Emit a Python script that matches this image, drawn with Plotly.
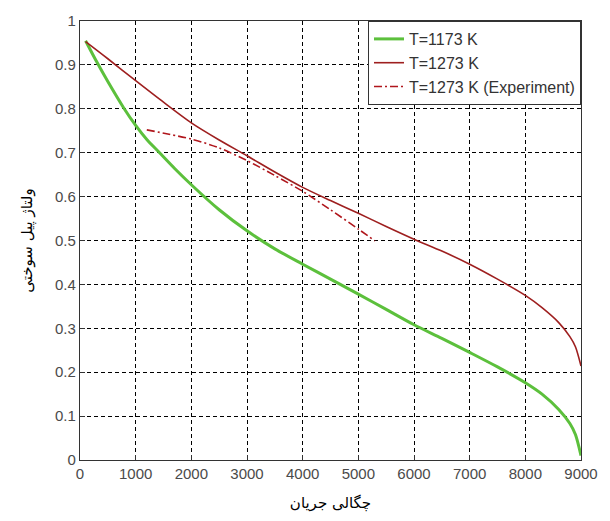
import plotly.graph_objects as go

# Current density (x) and cell voltage (y) for each curve
x_1173 = [100, 300, 500, 780, 1000, 1200, 1420, 1700, 2000, 2500, 3000, 3500, 4000, 4500, 5000, 5500, 6000, 6500, 7000, 7500, 8000, 8300, 8600, 8800, 8900, 9000]
v_1173 = [0.955, 0.907, 0.862, 0.803, 0.762, 0.730, 0.701, 0.664, 0.627, 0.570, 0.522, 0.481, 0.446, 0.412, 0.378, 0.343, 0.308, 0.277, 0.245, 0.212, 0.176, 0.150, 0.115, 0.083, 0.058, 0.010]

x_1273 = [100, 500, 1000, 1500, 2000, 2500, 3000, 3500, 4000, 4500, 5000, 5500, 6000, 6500, 7000, 7500, 8000, 8300, 8600, 8800, 8900, 9000]
v_1273 = [0.953, 0.914, 0.864, 0.815, 0.768, 0.729, 0.693, 0.656, 0.621, 0.591, 0.562, 0.532, 0.503, 0.476, 0.446, 0.412, 0.375, 0.347, 0.313, 0.281, 0.258, 0.214]

x_exp = [1200, 1600, 2000, 2500, 3000, 3500, 4000, 4500, 5000, 5300]
v_exp = [0.752, 0.742, 0.731, 0.711, 0.682, 0.648, 0.612, 0.570, 0.526, 0.499]

x_ticks = [0, 1000, 2000, 3000, 4000, 5000, 6000, 7000, 8000, 9000]
y_ticks = [0, 0.1, 0.2, 0.3, 0.4, 0.5, 0.6, 0.7, 0.8, 0.9, 1]
y_tick_text = ["0", "0.1", "0.2", "0.3", "0.4", "0.5", "0.6", "0.7", "0.8", "0.9", "1"]

fig = go.Figure()
fig.add_trace(go.Scatter(x=x_1173, y=v_1173, mode="lines", name="T=1173 K",
                         line=dict(color="#5cc03c", width=3, shape="spline", smoothing=0.8)))
fig.add_trace(go.Scatter(x=x_1273, y=v_1273, mode="lines", name="T=1273 K",
                         line=dict(color="#9e1f1f", width=1.6, shape="spline", smoothing=0.8)))
fig.add_trace(go.Scatter(x=x_exp, y=v_exp, mode="lines", name="T=1273 K (Experiment)",
                         line=dict(color="#b0161c", width=1.6, dash="8px,3px,2px,3px",
                                   shape="spline", smoothing=0.8)))

axis_common = dict(
    showline=True, linecolor="#333333", linewidth=1.2, mirror=True,
    showgrid=True, gridcolor="#000000", gridwidth=1, griddash="4px,3px",
    ticks="inside", ticklen=5, tickcolor="#333333",
    tickfont=dict(family="Liberation Sans, Arial", size=15, color="#4a4a4a"),
    zeroline=False,
)

fig.update_xaxes(range=[0, 9000], tickvals=x_ticks, **axis_common,
                 title=dict(text="چگالی جریان", standoff=16,
                            font=dict(family="DejaVu Sans", size=15, color="#000000")))
fig.update_yaxes(range=[0, 1], tickvals=y_ticks, ticktext=y_tick_text, **axis_common,
                 title=dict(text="ولتاژ پیل سوختی", standoff=18,
                            font=dict(family="DejaVu Sans", size=15, color="#000000")))

fig.update_layout(
    width=610, height=521,
    margin=dict(l=80, r=24, t=20, b=61),
    paper_bgcolor="white", plot_bgcolor="white",
    showlegend=True,
    legend=dict(x=1, y=1, xanchor="right", yanchor="top",
                bgcolor="white", bordercolor="#333333", borderwidth=1,
                itemwidth=30, tracegroupgap=0,
                font=dict(family="Liberation Sans, Arial", size=16, color="#333333")),
)

fig.write_html("out.html")
